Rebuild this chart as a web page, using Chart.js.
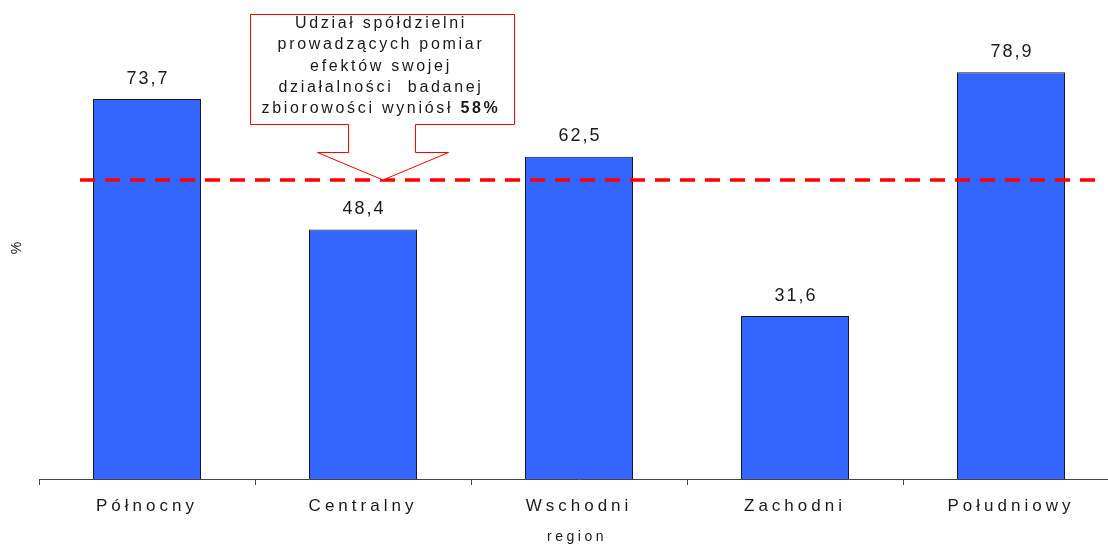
<!DOCTYPE html>
<html><head><meta charset="utf-8">
<script src="https://cdn.jsdelivr.net/npm/chart.js@4/dist/chart.umd.min.js"></script>
<style>html,body{margin:0;padding:0;background:#fff;overflow:hidden}#wrap{width:1125px;height:545px;position:relative}</style>
</head><body><div id="wrap"><canvas id="c" width="1125" height="545"></canvas></div>
<script>
const categories = ['Północny', 'Centralny', 'Wschodni', 'Zachodni', 'Południowy'];
const values = [73.7, 48.4, 62.5, 31.6, 78.9];
const valueLabels = ['73,7', '48,4', '62,5', '31,6', '78,9'];
const averageValue = 58;
const yMin = 0, yMax = 90;
const axisTitleX = 'region';
const axisTitleY = '%';
const calloutLines = ['Udział spółdzielni', 'prowadzących pomiar', 'efektów swojej', 'działalności  badanej', 'zbiorowości wyniósł '];
const calloutBold = '58%';

const FONT = '"Liberation Sans", Arial, sans-serif';

function spacedWidth(ctx, t) { return ctx.measureText(t).width; }

const overlay = {
  id: 'overlay',
  beforeDraw(chart) { chart.ctx.letterSpacing = '4px'; },
  afterDatasetsDraw(chart) {
    const ctx = chart.ctx;
    const ys = chart.scales.y;
    const meta = chart.getDatasetMeta(0);
    ctx.save();
    // data labels
    ctx.letterSpacing = '2px';
    ctx.font = '18px ' + FONT;
    ctx.fillStyle = '#1a1a1a';
    ctx.textAlign = 'center';
    ctx.textBaseline = 'middle';
    meta.data.forEach((bar, i) => {
      ctx.fillText(valueLabels[i], bar.x + 1, bar.y - 20.5);
    });
    // dashed average line
    const ay = ys.getPixelForValue(averageValue);
    ctx.beginPath();
    ctx.setLineDash([15, 10]);
    ctx.strokeStyle = '#ff0000';
    ctx.lineWidth = 3.5;
    ctx.moveTo(80, ay);
    ctx.lineTo(1096, ay);
    ctx.stroke();
    ctx.setLineDash([]);
    // callout
    const L = 250.5, R = 514.5, T = 14.5, B = 124.5;
    const sL = 348.5, sR = 415.5, hY = 152.5, hL = 317.5, hR = 448.5, tipX = 383;
    ctx.beginPath();
    ctx.moveTo(L, T); ctx.lineTo(R, T); ctx.lineTo(R, B); ctx.lineTo(sR, B); ctx.lineTo(sR, hY);
    ctx.lineTo(hR, hY); ctx.lineTo(tipX, ay); ctx.lineTo(hL, hY); ctx.lineTo(sL, hY); ctx.lineTo(sL, B);
    ctx.lineTo(L, B); ctx.closePath();
    ctx.fillStyle = '#ffffff';
    ctx.fill();
    ctx.strokeStyle = '#ff0000';
    ctx.lineWidth = 1;
    ctx.stroke();
    ctx.fillStyle = '#1a1a1a';
    ctx.letterSpacing = '2.7px';
    ctx.textBaseline = 'alphabetic';
    const cx = 381;
    calloutLines.forEach((ln, i) => {
      const yy = 28 + i * 21.3;
      if (i === calloutLines.length - 1) {
        ctx.font = '16px ' + FONT;
        const w1 = spacedWidth(ctx, ln);
        ctx.font = 'bold 16px ' + FONT;
        const w2 = spacedWidth(ctx, calloutBold);
        let x0 = cx - (w1 + w2) / 2;
        ctx.textAlign = 'left';
        ctx.font = '16px ' + FONT;
        ctx.fillText(ln, x0, yy);
        ctx.font = 'bold 16px ' + FONT;
        ctx.fillText(calloutBold, x0 + w1, yy);
      } else {
        ctx.textAlign = 'center';
        ctx.font = '16px ' + FONT;
        ctx.fillText(ln, cx, yy);
      }
    });
    ctx.restore();
  },
  afterDraw(chart) {
    const ctx = chart.ctx;
    const ca = chart.chartArea;
    ctx.save();
    ctx.fillStyle = '#1a1a1a';
    ctx.letterSpacing = '3.5px';
    ctx.font = '14px ' + FONT;
    ctx.textAlign = 'center';
    ctx.textBaseline = 'middle';
    ctx.fillText(axisTitleX, (ca.left + ca.right) / 2 - 2, 537);
    ctx.translate(17, 248);
    ctx.rotate(-Math.PI / 2);
    ctx.letterSpacing = '0px';
    ctx.fillText(axisTitleY, 0, 0);
    ctx.restore();
  }
};

new Chart(document.getElementById('c'), {
  type: 'bar',
  data: {
    labels: categories,
    datasets: [{
      data: values,
      backgroundColor: '#3366ff',
      borderColor: '#1a1a1a',
      borderWidth: 1,
      borderSkipped: 'bottom',
      barPercentage: 0.5,
      categoryPercentage: 1.0
    }]
  },
  options: {
    responsive: false,
    devicePixelRatio: 1,
    animation: false,
    layout: { padding: { left: 39, right: 6, top: 15, bottom: 0 } },
    plugins: { legend: { display: false }, tooltip: { enabled: false } },
    scales: {
      y: { display: false, min: yMin, max: yMax },
      x: {
        afterFit(scale) { scale.height = 66; },
        grid: { drawOnChartArea: false, drawTicks: true, tickLength: 6, color: '#444', offset: true },
        border: { display: true, color: '#444', width: 1 },
        ticks: { color: '#1a1a1a', font: { family: FONT, size: 17 }, padding: 11, maxRotation: 0, autoSkip: false }
      }
    }
  },
  plugins: [overlay]
});
</script>
</body></html>
